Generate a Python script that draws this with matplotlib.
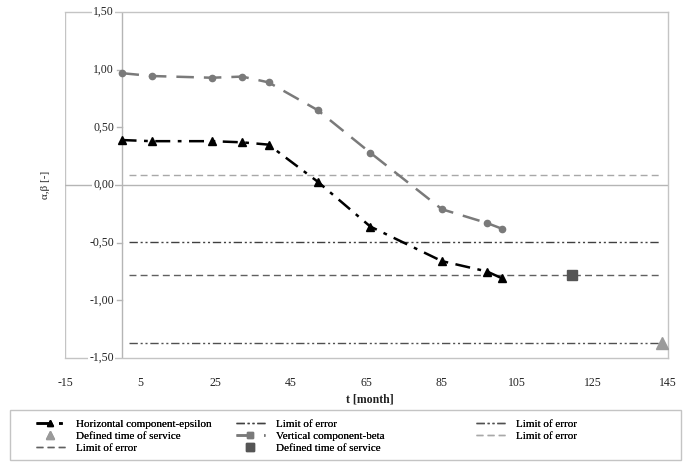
import matplotlib
matplotlib.use("Agg")
import matplotlib.pyplot as plt
from matplotlib.lines import Line2D
from matplotlib.patches import Rectangle

plt.rcParams['font.family'] = ['Liberation Serif', 'DejaVu Serif']

# ---- data ----
t_months = [0, 8, 24, 32, 39, 52, 66, 85, 97, 101]
horizontal_eps = [0.39, 0.38, 0.38, 0.37, 0.35, 0.03, -0.36, -0.66, -0.75, -0.81]
vertical_beta = [0.97, 0.945, 0.93, 0.94, 0.89, 0.65, 0.28, -0.21, -0.33, -0.38]

limit_light = 0.09      # light grey dashed
limit_dd_upper = -0.49  # dash-dot-dot
limit_dashed = -0.78    # dashed
limit_dd_lower = -1.37  # dash-dot-dot

service_square = (119.5, -0.78)
service_triangle = (143.4, -1.37)

limit_x = [2, 143]

x_ticks = [-15, 5, 25, 45, 65, 85, 105, 125, 145]
y_ticks = [-1.5, -1.0, -0.5, 0.0, 0.5, 1.0, 1.5]
y_ticklabels = ["-1,50", "-1,00", "-0,50", "0,00", "0,50", "1,00", "1,50"]

W, H = 683, 463
fig = plt.figure(figsize=(W / 100, H / 100), dpi=100)
ax = fig.add_axes([65 / W, 1 - 358 / H, (668 - 65) / W, (358 - 12) / H])

ax.set_xlim(-15, 145)
ax.set_ylim(-1.5, 1.5)

frame_c = '#c4c4c4'
for s in ['top', 'right', 'bottom']:
    ax.spines[s].set_color(frame_c)
    ax.spines[s].set_linewidth(1.0)
ax.spines['left'].set_visible(False)
ax.axvline(-15, color=frame_c, lw=1.0, zorder=1)
ax.axhline(0, color='#b5b5b5', lw=1.0, zorder=1)
ax.axvline(0, color='#b5b5b5', lw=1.0, zorder=1)

dd = (0, (6, 2, 1.5, 2, 1.5, 2))
# limits of error
ax.plot(limit_x, [limit_light] * 2, color='#a8a8a8', lw=1.0, ls=(0, (5, 3)), zorder=2)
ax.plot(limit_x, [limit_dd_upper] * 2, color='#404040', lw=1.0, ls=dd, zorder=2)
ax.plot(limit_x, [limit_dashed] * 2, color='#606060', lw=1.0, ls=(0, (5, 3)), zorder=2)
ax.plot(limit_x, [limit_dd_lower] * 2, color='#505050', lw=1.0, ls=dd, zorder=2)

# series
ax.plot(t_months, horizontal_eps, color='black', lw=1.8, ls=(0, (6, 3, 1.5, 3)),
        marker='^', ms=6, mfc='black', mec='black', zorder=4)
ax.plot(t_months, vertical_beta, color='#7a7a7a', lw=1.8, ls=(0, (7, 4)),
        marker='o', ms=4.5, mfc='#7a7a7a', mec='#7a7a7a', zorder=4)

ax.plot([service_square[0]], [service_square[1]], marker='s', ms=7, color='#555555', ls='none', zorder=5)
ax.plot([service_triangle[0]], [service_triangle[1]], marker='^', ms=8, color='#9a9a9a', ls='none', zorder=5)

# ticks
ax.set_xticks(x_ticks)
ax.set_xticklabels([str(v) for v in x_ticks])
ax.tick_params(axis='x', length=0, pad=14, labelsize=8.5, colors='#222222')
ax.set_yticks(y_ticks)
ax.set_yticklabels([])
ax.tick_params(axis='y', length=0)
for v, lab in zip(y_ticks, y_ticklabels):
    ax.text(-2.0, v, lab, ha='right', va='center', fontsize=8.5, color='#222222',
            bbox=dict(facecolor='white', edgecolor='none', pad=0.8), zorder=3, clip_on=False)
    if v not in (-1.5, 0.0, 1.5):
        ax.plot([-1.2, 0], [v, v], color='#b5b5b5', lw=1.0, zorder=1)

ax.text(-20.3, 0.0, "α,β [-]", rotation=90, ha='center', va='center', fontsize=8,
        color='#222222', clip_on=False)
fig.text(370 / W, 1 - 399 / H, "t [month]", ha='center', va='center', fontsize=8.5,
         fontweight='bold', color='#222222')

# legend (three columns placed individually inside one frame)
handles = [
    Line2D([], [], color='black', lw=1.8, ls=(0, (6, 3, 1.5, 3)), marker='^', ms=5),
    Line2D([], [], color='#9a9a9a', ls='none', marker='^', ms=6),
    Line2D([], [], color='#606060', lw=1.0, ls=(0, (5, 3))),
    Line2D([], [], color='#404040', lw=1.0, ls=dd),
    Line2D([], [], color='#7a7a7a', lw=1.8, ls=(0, (7, 4)), marker='s', ms=4),
    Line2D([], [], color='#555555', ls='none', marker='s', ms=6),
    Line2D([], [], color='#505050', lw=1.0, ls=dd),
    Line2D([], [], color='#a8a8a8', lw=1.0, ls=(0, (5, 3))),
]
labels = ["Horizontal component-epsilon", "Defined time of service", "Limit of error",
          "Limit of error", "Vertical component-beta", "Defined time of service",
          "Limit of error", "Limit of error"]

fig.patches.append(Rectangle((10 / W, 1 - 460 / H), (681 - 10) / W, (460 - 410) / H,
                             transform=fig.transFigure, facecolor='none',
                             edgecolor='#c4c4c4', lw=1.0))
col_slices = [(0, 3), (3, 6), (6, 8)]
col_x = [36, 236, 476]
for (a, b), cx in zip(col_slices, col_x):
    lg = fig.legend(handles[a:b], labels[a:b], loc='upper left',
                    bbox_to_anchor=(cx / W, 1 - 419 / H), fontsize=8, frameon=False,
                    labelspacing=0.2, handlelength=2.6, handletextpad=1.0,
                    borderpad=0.0, borderaxespad=0.0)
    fig.add_artist(lg)

fig.savefig("out.png", dpi=100)
